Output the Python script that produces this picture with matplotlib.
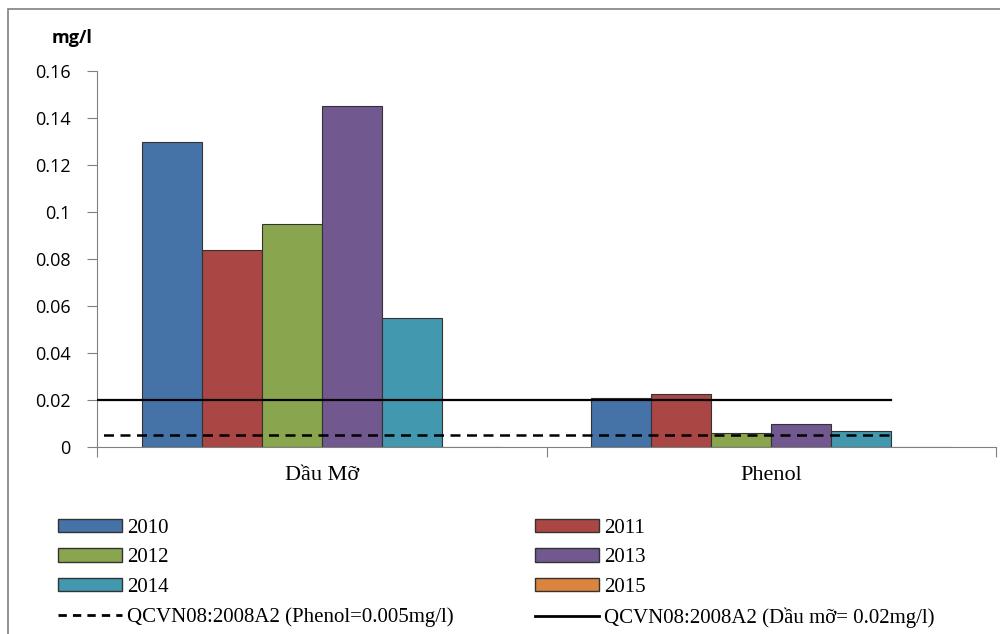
import matplotlib
matplotlib.use("Agg")
import matplotlib.pyplot as plt
import numpy as np
from matplotlib.lines import Line2D
from matplotlib.patches import Patch, Rectangle

categories = ["Dầu Mỡ", "Phenol"]
years = ["2010", "2011", "2012", "2013", "2014", "2015"]
values = {
    "2010": [0.130, 0.021],
    "2011": [0.084, 0.0225],
    "2012": [0.095, 0.006],
    "2013": [0.145, 0.0097],
    "2014": [0.055, 0.007],
    "2015": [0.0, 0.0],
}
colors = ["#4572A7", "#AA4643", "#89A54E", "#71588F", "#4198AF", "#DB843D"]
phenol_limit = 0.005
oil_limit = 0.02
yticks = [0, 0.02, 0.04, 0.06, 0.08, 0.1, 0.12, 0.14, 0.16]
ytick_labels = ["0", "0.02", "0.04", "0.06", "0.08", "0.1", "0.12", "0.14", "0.16"]

serif = "Liberation Serif"
sans = "Open Sans"

fig = plt.figure(figsize=(10, 6.34), dpi=100)
fig.patches.append(Rectangle((0.008, -0.1), 1.2, 1.086, transform=fig.transFigure,
                             fill=False, edgecolor="#808080", linewidth=1.2))
ax = fig.add_axes([0.097, 0.295, 0.899, 0.593])

x = np.arange(len(categories))
group_w = 0.8
bar_w = group_w / len(years)
for i, (yr, c) in enumerate(zip(years, colors)):
    offs = -group_w / 2 + bar_w * (i + 0.5)
    ax.bar(x + offs, values[yr], width=bar_w, color=c, edgecolor="#333333",
           linewidth=0.8, zorder=2)

line_end = x[-1] - group_w / 2 + bar_w * 5
ax.plot([-0.5, line_end], [oil_limit, oil_limit], color="black", lw=1.6, zorder=3)
ax.plot([-0.5, line_end], [phenol_limit, phenol_limit], color="black", lw=1.8,
        ls=(4, (4, 2.6)), zorder=3)

ax.set_xlim(-0.5, 1.5)
ax.set_ylim(0, 0.16)
ax.set_yticks(yticks)
ax.set_yticklabels(ytick_labels, fontfamily=sans, fontsize=13)
ax.set_xticks([-0.5, 0.5, 1.5])
ax.set_xticklabels([])
ax.set_xticks(x, minor=True)
ax.set_xticklabels(categories, minor=True, fontfamily=serif, fontsize=16)
ax.tick_params(axis="x", which="minor", length=0, pad=14)
ax.tick_params(axis="x", which="major", length=7, color="#808080", direction="out")
ax.tick_params(axis="y", length=7, color="#808080", direction="out", pad=12)
for s in ["top", "right"]:
    ax.spines[s].set_visible(False)
for s in ["left", "bottom"]:
    ax.spines[s].set_color("#808080")

fig.text(0.052, 0.94, "mg/l", fontfamily=sans, fontsize=13, fontweight="bold",
         va="center")

patches = [Patch(facecolor=c, edgecolor="#333333", label=y) for y, c in zip(years, colors)]
dash = Line2D([], [], color="black", lw=2, ls=(0, (3, 2.2)),
              label="QCVN08:2008A2 (Phenol=0.005mg/l)")
solid = Line2D([], [], color="black", lw=2, label="QCVN08:2008A2 (Dầu mỡ= 0.02mg/l)")
handles = [patches[0], patches[2], patches[4], dash,
           patches[1], patches[3], patches[5], solid]
fig.legend(handles=handles, ncol=2, loc="upper left", bbox_to_anchor=(0.048, 0.198),
           frameon=False, prop={"family": serif, "size": 15},
           handlelength=3.05, handleheight=0.6, handletextpad=0.25,
           columnspacing=3.9, labelspacing=0.5, borderpad=0)

fig.savefig("out.png", dpi=100)
